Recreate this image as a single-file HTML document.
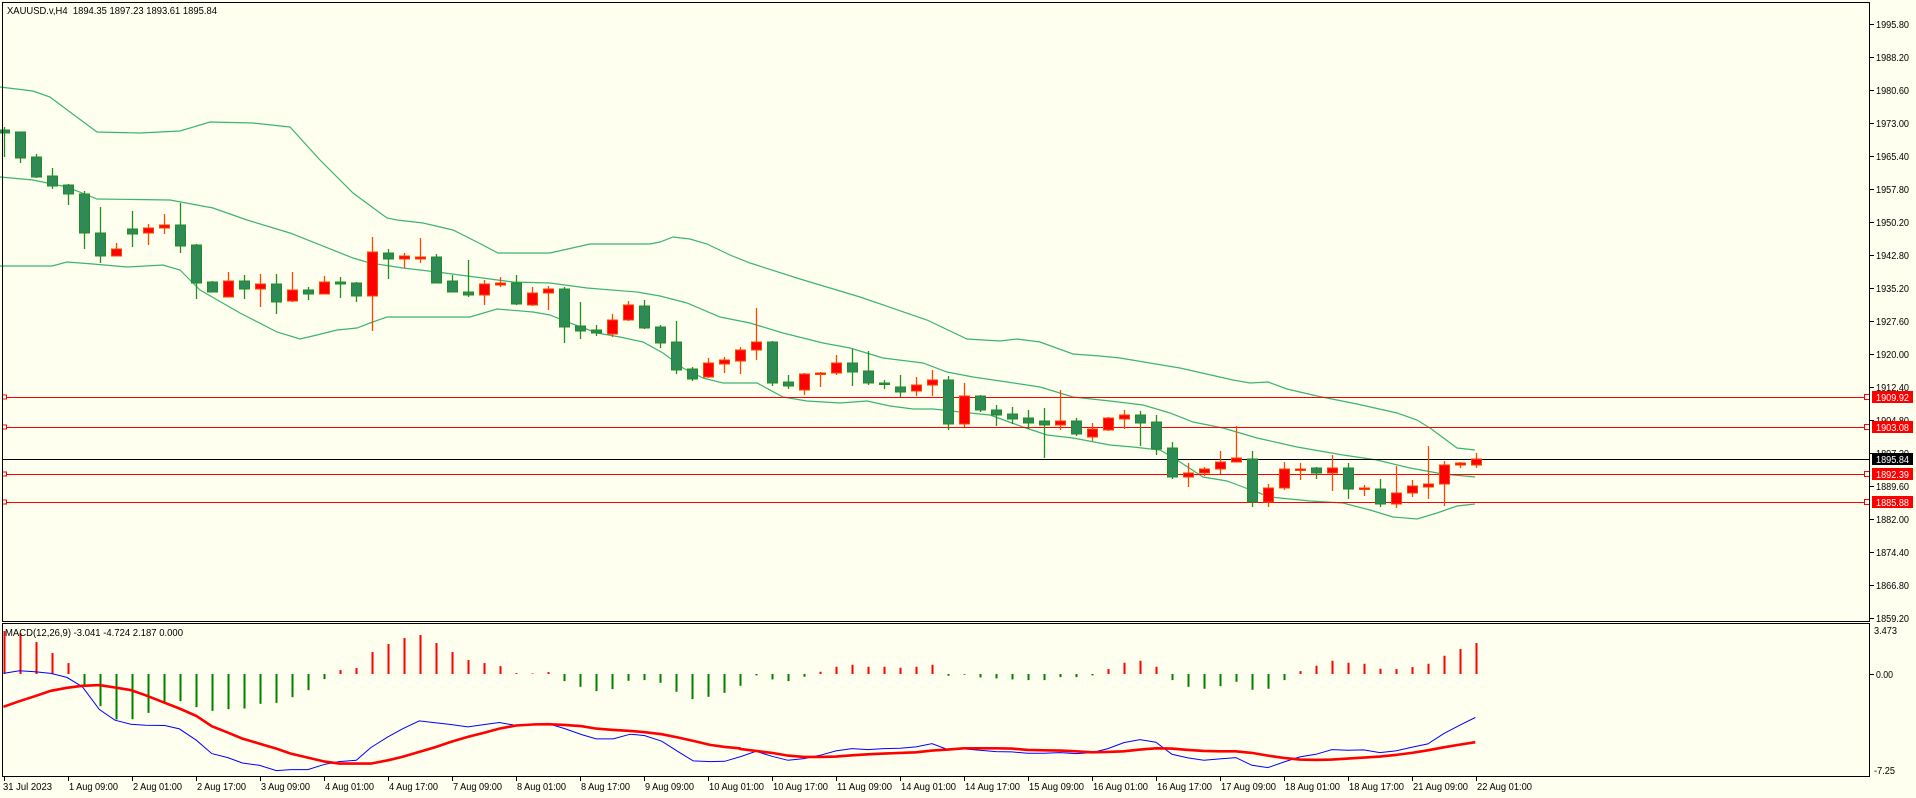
<!DOCTYPE html>
<html><head><meta charset="utf-8"><style>
html,body{margin:0;padding:0;background:#FFFFF0;}
svg{display:block;font-family:"Liberation Sans",Tahoma,sans-serif;}
</style></head><body>
<svg id="s" width="1916" height="798" viewBox="0 0 1916 798" xmlns="http://www.w3.org/2000/svg">
<rect x="0" y="0" width="1916" height="798" fill="#FFFFF0"/>
</svg>
<script>
var s=document.getElementById('s'),h='';
function L(x1,y1,x2,y2,c,w){h+='<line x1="'+x1+'" y1="'+y1+'" x2="'+x2+'" y2="'+y2+'" stroke="'+c+'" stroke-width="'+(w||1)+'"/>';}
function T(x,y,t,c,sz,tl){h+='<text x="'+x+'" y="'+y+'" fill="'+(c||'#000')+'" font-size="'+(sz||10)+'"'+(tl?' textLength="'+tl+'" lengthAdjust="spacingAndGlyphs"':'')+'>'+t+'</text>';}
function P(pts,c,w){h+='<polyline fill="none" stroke="'+c+'" stroke-width="'+w+'" points="'+pts.map(function(p){return p[0].toFixed(1)+','+p[1].toFixed(1)}).join(' ')+'"/>';}
var up=[[0,87],[33,91],[50,97],[70,112],[97,132],[140,133],[180,131],[210,122],[253,123],[290,127],[320,160],[353,193],[387,218],[397,220],[423,223],[453,230],[477,242],[498,253],[550,253],[590,244],[650,244],[660,242],[673,237],[690,239],[707,244],[730,255],[750,263],[800,279],[860,297],[927,320],[967,339],[1000,341],[1017,339],[1040,342],[1073,354],[1100,356],[1120,358],[1180,368],[1233,380],[1250,383],[1268,382],[1287,389],[1317,396],[1357,404],[1397,413],[1417,420],[1430,428],[1457,448],[1475,450]];
var md=[[0,177],[33,180],[67,187],[97,199],[170,200],[213,208],[247,220],[290,233],[353,258],[370,263],[403,268],[437,272],[513,282],[550,283],[587,288],[637,292],[660,296],[687,303],[720,317],[750,323],[783,333],[823,343],[850,348],[883,358],[923,363],[947,372],[973,377],[1007,382],[1040,387],[1073,397],[1110,401],[1143,405],[1170,413],[1193,422],[1223,428],[1257,438],[1297,447],[1343,455],[1377,460],[1410,468],[1443,474],[1475,477]];
var lo=[[0,266],[52,266],[67,262],[93,264],[127,267],[163,265],[180,270],[200,290],[240,313],[277,332],[300,339],[317,335],[337,330],[357,328],[370,323],[387,317],[470,317],[497,309],[533,312],[550,315],[570,323],[597,333],[620,337],[643,342],[663,353],[683,368],[703,378],[723,383],[757,383],[783,397],[807,401],[840,403],[867,401],[890,406],[913,409],[933,409],[960,412],[990,415],[1023,427],[1047,435],[1073,438],[1110,445],[1133,447],[1160,450],[1177,460],[1203,477],[1227,481],[1243,487],[1270,497],[1310,501],[1343,503],[1370,510],[1393,517],[1417,519],[1437,513],[1457,506],[1475,504]];
P(up,'#3CB371',1.2);P(md,'#3CB371',1.2);P(lo,'#3CB371',1.2);
L(2,397.5,1870,397.5,'#FF0000');L(2,427.5,1870,427.5,'#FF0000');L(2,474.5,1870,474.5,'#FF0000');L(2,502.5,1870,502.5,'#FF0000');
L(2,459.5,1870,459.5,'#000');
[397,427,474,502].forEach(function(y){h+='<rect x="1864.5" y="'+(y-2.5)+'" width="5" height="5" fill="#FFFFF0" stroke="#FF0000"/>';h+='<rect x="2.5" y="'+(y-2)+'" width="4" height="4" fill="#FFFFF0" stroke="#FF0000"/>';});
var C=[['g',127,157,130,133],['g',132,163,132,158],['g',154,178,157,177],['g',168,189,176,186],['g',184,205,185,194],['g',191,249,194,233],['g',207,263,233,256],['r',243,256,249,256],['g',211,247,229,234],['r',224,245,228,233],['r',214,234,225,228],['g',203,253,225,246],['g',244,299,245,283],['g',281,292,282,292],['r',272,297,281,297],['g',275,299,281,289],['r',274,307,284,289],['g',274,314,284,302],['r',272,302,290,301],['g',287,300,290,294],['r',276,294,282,294],['g',277,298,282,284],['g',282,302,283,296],['r',237,331,252,296],
['g',249,279,253,259],['r',253,268,256,259],['r',238,263,257,259],['g',254,283,257,283],['g',275,292,281,292],['g',260,297,292,295],['r',280,305,284,295],['r',277,287,283,285],['g',275,305,283,304],['r',287,306,293,305],['r',286,310,289,293],['g',287,343,289,327],['g',302,339,326,331],['g',325,336,330,333],['r',314,337,320,334],['r',301,321,305,320],['g',300,329,306,328],['g',325,348,327,343],['g',321,374,342,370],['g',367,381,369,379],['r',358,378,363,377],['r',357,373,360,364],['r',347,374,350,361],
['r',308,360,342,350],['g',341,386,342,383],['g',375,389,382,386],['r',373,395,374,390],['r',372,387,373,374],['r',355,375,363,373],['g',349,386,363,372],['g',351,385,371,383],['g',380,389,383,384],['g',375,397,387,392],['r',377,396,385,391],['r',370,396,380,385],['g',376,430,380,424],['r',383,427,396,424],['g',395,412,396,410],['g',405,426,410,415],['g',407,424,414,419],['g',410,429,418,423],['g',408,458,421,425],['r',390,430,421,425],['g',418,436,421,434],['r',423,441,429,437],['r',417,431,418,430],
['r',410,429,415,419],['g',411,446,415,423],['g',415,455,422,449],['g',442,479,448,477],['r',463,487,473,477],['r',467,476,469,473],['r',451,474,462,469],['r',426,462,458,462],['g',451,507,459,502],['r',484,507,488,502],['r',462,490,469,488],['r',463,480,469,470],['g',467,479,468,473],['r',455,491,468,473],['g',463,499,468,489],['r',485,496,488,489],['g',479,507,489,504],['r',466,508,493,504],['r',480,497,486,493],['r',446,499,484,487],['r',461,506,465,484],['r',462,468,463,465],['r',453,468,459,465]];
C.forEach(function(c,i){var x=4+16*i,g=c[0]=='g';var wc=g?'#228B22':'#FF4500';
L(x+.5,c[1],x+.5,c[2],wc,1.3);var bh=Math.max(1.5,c[4]-c[3]);
h+='<rect x="'+(x-4.5)+'" y="'+c[3]+'" width="10" height="'+bh+'" fill="'+(g?'#2E8B57':'#FF0000')+'" stroke="'+(g?'#228B22':'#FF4500')+'" stroke-width="1"/>';});
var hz=[33,40,66,99,129,195,258,298,297,278,248,243,261,272,267,265,251,248,231,210,177,150,144,96,72,54,45,69,96,120,129,138,159,160,156,183,200,213,207,182,180,188,215,237,230,218,197,166,178,183,170,155,140,134,140,140,143,140,134,167,164,172,175,178,180,180,171,171,166,147,128,122,140,180,200,206,198,185,209,206,180,153,137,122,128,131,146,147,141,131,107,87,69];
hz.forEach(function(z,i){if(i>92)return;var x=4+16*i+.5,y=620+z/2.994;var neg=y>674;L(x,674,x,y,neg?'#008000':'#FF0000',2);});
function conv(a,x0){return a.map(function(p){return [x0+p[0]/2.063,620+p[1]/2.994];});}
var b1=[[7,160],[40,152],[72,155],[105,160],[138,172],[170,200],[205,268],[237,300],[270,312],[300,315],[340,316],[370,326],[405,360],[437,400],[470,412],[500,428],[535,435],[570,451],[600,448],[635,448],[670,432],[700,424],[735,420],[765,382],[800,350],[830,326],[865,302],[900,308],[930,313],[965,320],[1000,313],[1030,307],[1065,316],[1100,311],[1130,310],[1165,325],[1200,343],[1230,356],[1265,356],[1300,342],[1330,346],[1365,363],[1400,395],[1430,422],[1465,424],[1495,423],[1526,410]];
var b2=[[0,410],[33,393],[66,408],[99,420],[132,415],[165,405],[198,392],[231,385],[264,388],[297,385],[330,384],[363,380],[396,370],[429,388],[462,386],[495,390],[528,394],[561,395],[594,399],[627,399],[660,397],[693,400],[726,397],[759,385],[792,367],[825,358],[858,366],[891,402],[924,413],[957,420],[990,416],[1023,412],[1056,435],[1089,442],[1122,425],[1155,410],[1188,402],[1221,388],[1254,390],[1287,389],[1320,397],[1353,392],[1386,381],[1419,371],[1452,340],[1485,315],[1517,292]];
var r1=[[7,260],[40,243],[72,228],[105,212],[138,203],[170,197],[205,195],[237,202],[270,210],[300,225],[340,248],[370,265],[405,287],[437,318],[470,337],[500,355],[535,370],[570,385],[600,400],[635,412],[670,424],[700,430],[765,430],[800,420],[830,410],[865,395],[900,380],[930,365],[965,350],[1000,337],[1030,325],[1065,316],[1100,313],[1130,312],[1165,314],[1200,318],[1230,325],[1265,329],[1300,332],[1330,336],[1365,342],[1400,352],[1430,362],[1465,374],[1495,380],[1526,384]];
var r2=[[0,386],[33,392],[66,398],[99,406],[132,410],[165,410],[198,409],[231,405],[264,402],[297,400],[330,398],[363,396],[396,391],[429,388],[462,384],[495,384],[528,384],[561,385],[594,389],[627,390],[660,391],[693,393],[726,396],[759,395],[792,393],[825,388],[858,384],[891,385],[924,389],[957,392],[990,393],[1023,393],[1056,398],[1089,406],[1122,413],[1155,418],[1188,419],[1221,418],[1254,415],[1287,412],[1320,409],[1353,404],[1386,398],[1419,390],[1452,381],[1485,373],[1517,366]];
P(conv(b1,0).concat(conv(b2,740)),'#0000FF',1);
P(conv(r1,0).concat(conv(r2,740)),'#FF0000',2.6);
h+='<rect x="2.5" y="2.5" width="1867" height="619" fill="none" stroke="#000" stroke-width="1"/>';
h+='<rect x="2.5" y="623.5" width="1867" height="153" fill="none" stroke="#000" stroke-width="1"/>';
var pl=['1995.80','1988.20','1980.60','1973.00','1965.40','1957.80','1950.20','1942.80','1935.20','1927.60','1920.00','1912.40','1904.80','1897.20','1889.60','1882.00','1874.40','1866.80','1859.20'];
pl.forEach(function(t,i){var y=24+i*33;L(1870,y+.5,1874,y+.5,'#000');T(1876,y+4,t,'#000',10,33);});
[[397,'1909.92','#FF0000'],[427,'1903.08','#FF0000'],[459,'1895.84','#000'],[474,'1892.39','#FF0000'],[502,'1885.88','#FF0000']].forEach(function(a){h+='<rect x="1872" y="'+(a[0]-6)+'" width="41" height="12" fill="'+a[2]+'"/>';T(1876,a[0]+4,a[1],'#fff',10,33);});
L(1870,674.5,1874,674.5,'#000');T(1874,634,'3.473','#000',10,23);T(1876,678,'0.00','#000',10,17);T(1874,774,'-7.25','#000',10,21);
T(7,14,'XAUUSD.v,H4&#160;&#160;1894.35 1897.23 1893.61 1895.84','#000',10,210);
T(5,636,'MACD(12,26,9) -3.041 -4.724 2.187 0.000','#000',10,178);
var dl=['31 Jul 2023','1 Aug 09:00','2 Aug 01:00','2 Aug 17:00','3 Aug 09:00','4 Aug 01:00','4 Aug 17:00','7 Aug 09:00','8 Aug 01:00','8 Aug 17:00','9 Aug 09:00','10 Aug 01:00','10 Aug 17:00','11 Aug 09:00','14 Aug 01:00','14 Aug 17:00','15 Aug 09:00','16 Aug 01:00','16 Aug 17:00','17 Aug 09:00','18 Aug 01:00','18 Aug 17:00','21 Aug 09:00','22 Aug 01:00'];
dl.forEach(function(t,i){var x=4+64*i;L(x+.5,777,x+.5,781,'#000');T(x+(i?1:-1),790,t,'#000',10,t.length>11?55:49);});
s.innerHTML+=h;
</script>
</body></html>
